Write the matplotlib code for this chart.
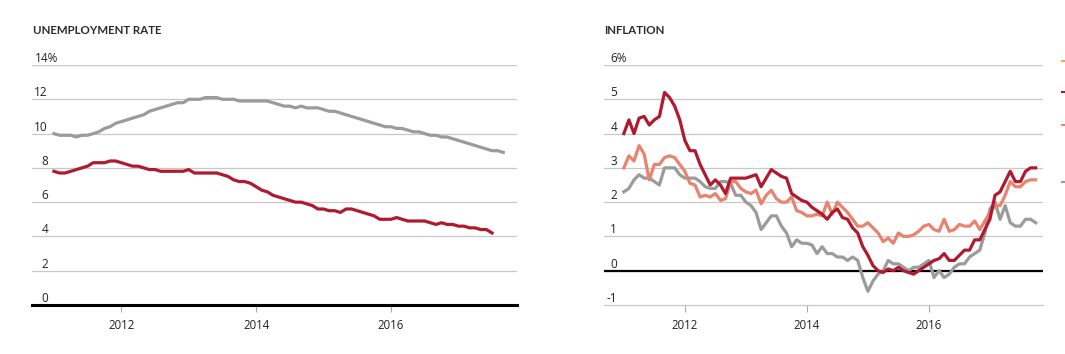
import numpy as np
import matplotlib
matplotlib.use("Agg")
import matplotlib.pyplot as plt
from matplotlib import transforms
from matplotlib.lines import Line2D

plt.rcParams['font.family'] = ['Open Sans', 'DejaVu Sans']

# monthly values, first point = Jan 2011
unemp_gray = [10.0, 9.9, 9.9, 9.9, 9.8, 9.9, 9.9, 10.0, 10.1, 10.3, 10.4, 10.6,
              10.7, 10.8, 10.9, 11.0, 11.1, 11.3, 11.4, 11.5, 11.6, 11.7, 11.8, 11.8,
              12.0, 12.0, 12.0, 12.1, 12.1, 12.1, 12.0, 12.0, 12.0, 11.9, 11.9, 11.9,
              11.9, 11.9, 11.9, 11.8, 11.7, 11.6, 11.6, 11.5, 11.6, 11.5, 11.5, 11.5,
              11.4, 11.3, 11.3, 11.2, 11.1, 11.0, 10.9, 10.8, 10.7, 10.6, 10.5, 10.4,
              10.4, 10.3, 10.3, 10.2, 10.1, 10.1, 10.0, 9.9, 9.9, 9.8, 9.8, 9.7,
              9.6, 9.5, 9.4, 9.3, 9.2, 9.1, 9.0, 9.0, 8.9]
unemp_red = [7.8, 7.7, 7.7, 7.8, 7.9, 8.0, 8.1, 8.3, 8.3, 8.3, 8.4, 8.4,
             8.3, 8.2, 8.1, 8.1, 8.0, 7.9, 7.9, 7.8, 7.8, 7.8, 7.8, 7.8,
             7.9, 7.7, 7.7, 7.7, 7.7, 7.7, 7.6, 7.5, 7.3, 7.2, 7.2, 7.1,
             6.9, 6.7, 6.6, 6.4, 6.3, 6.2, 6.1, 6.0, 6.0, 5.9, 5.8, 5.6,
             5.6, 5.5, 5.5, 5.4, 5.6, 5.6, 5.5, 5.4, 5.3, 5.2, 5.0, 5.0,
             5.0, 5.1, 5.0, 4.9, 4.9, 4.9, 4.9, 4.8, 4.7, 4.8, 4.7, 4.7,
             4.6, 4.6, 4.5, 4.5, 4.4, 4.4, 4.2]

infl_red = [4.0, 4.4, 4.0, 4.45, 4.5, 4.25, 4.4, 4.5, 5.2, 5.05, 4.8, 4.4,
            3.8, 3.5, 3.5, 3.1, 2.8, 2.5, 2.65, 2.5, 2.25, 2.7, 2.7, 2.7,
            2.7, 2.75, 2.8, 2.45, 2.7, 2.95, 2.85, 2.75, 2.7, 2.25, 2.15, 2.05,
            2.0, 1.85, 1.75, 1.65, 1.5, 1.7, 1.8, 1.55, 1.5, 1.25, 1.1, 0.7,
            0.45, 0.15, 0.0, -0.05, 0.05, 0.0, 0.1, 0.0, -0.05, -0.1, 0.0, 0.1,
            0.2, 0.3, 0.35, 0.5, 0.3, 0.3, 0.45, 0.6, 0.6, 0.9, 0.9, 1.2,
            1.5, 2.2, 2.3, 2.6, 2.9, 2.6, 2.6, 2.9, 3.0, 3.0]
infl_salmon = [3.0, 3.35, 3.2, 3.65, 3.4, 2.65, 3.1, 3.1, 3.3, 3.35, 3.3, 3.1,
               2.9, 2.55, 2.5, 2.15, 2.2, 2.15, 2.25, 2.05, 2.1, 2.6, 2.6, 2.4,
               2.3, 2.25, 2.35, 1.95, 2.2, 2.35, 2.1, 2.0, 2.0, 2.15, 1.75, 1.7,
               1.6, 1.6, 1.65, 1.6, 2.0, 1.65, 2.0, 1.85, 1.7, 1.5, 1.3, 1.3,
               1.4, 1.25, 1.1, 0.85, 0.95, 0.8, 1.1, 1.0, 1.0, 1.05, 1.15, 1.3,
               1.35, 1.2, 1.15, 1.5, 1.15, 1.2, 1.35, 1.3, 1.3, 1.45, 1.2, 1.45,
               1.7, 1.9, 1.9, 2.2, 2.6, 2.45, 2.45, 2.6, 2.65, 2.65]
infl_gray = [2.3, 2.4, 2.65, 2.8, 2.7, 2.7, 2.6, 2.5, 3.0, 3.0, 3.0, 2.8,
             2.7, 2.7, 2.7, 2.6, 2.45, 2.4, 2.4, 2.6, 2.6, 2.55, 2.2, 2.2,
             2.0, 1.9, 1.7, 1.2, 1.4, 1.6, 1.6, 1.3, 1.1, 0.7, 0.9, 0.8,
             0.8, 0.75, 0.5, 0.7, 0.5, 0.5, 0.4, 0.4, 0.3, 0.4, 0.3, -0.2,
             -0.6, -0.3, -0.1, 0.0, 0.3, 0.2, 0.2, 0.1, 0.0, 0.1, 0.1, 0.2,
             0.3, -0.2, 0.0, -0.2, -0.1, 0.1, 0.2, 0.2, 0.4, 0.5, 0.6, 1.1,
             1.8, 2.0, 1.5, 1.9, 1.4, 1.3, 1.3, 1.5, 1.5, 1.4]

years = [2012, 2014, 2016]
unemp_ticks = [0, 2, 4, 6, 8, 10, 12, 14]
infl_ticks = [-1, 0, 1, 2, 3, 4, 5, 6]

RED = '#b01a2e'
SALMON = '#e8836f'
GRAY = '#9b9b9b'
GRID = '#c8c8c8'


def months(vals):
    return 2011 + np.arange(len(vals)) / 12.0


def style_axis(ax, ticks, label_x, top_x):
    ax.set_xlim(2010.675, 2017.87)
    ax.set_ylim(ticks[0], ticks[-1])
    for s in ['top', 'right', 'left']:
        ax.spines[s].set_visible(False)
    ax.set_yticks([])
    ax.set_xticks(years)
    ax.set_xticklabels([str(y) for y in years], fontsize=8.3, color='#222222')
    ax.tick_params(axis='x', length=5, width=0.8, color='#aaaaaa', pad=5)
    for t in ticks[1:]:
        ax.axhline(t, color=GRID, lw=0.9, zorder=1)
    # y labels sit just above their gridline
    trans = transforms.offset_copy(ax.get_yaxis_transform(), fig=ax.figure,
                                   x=0, y=3, units='dots')
    for t in ticks[:-1]:
        ax.text(label_x, t, str(t), transform=trans, ha='right', va='baseline',
                fontsize=8.5, color='#222222')
    ax.text(top_x, ticks[-1], str(ticks[-1]) + '%', transform=trans, ha='left',
            va='baseline', fontsize=8.5, color='#222222')


fig = plt.figure(figsize=(10.65, 3.54), dpi=100)

ax1 = fig.add_axes([32 / 1065, 49 / 354, 485 / 1065, 240 / 354])
style_axis(ax1, unemp_ticks, 0.033, 0.006)
ax1.spines['bottom'].set_color('black')
ax1.spines['bottom'].set_linewidth(2.2)
ax1.plot(months(unemp_gray), unemp_gray, color=GRAY, lw=2.3, zorder=3)
ax1.plot(months(unemp_red), unemp_red, color=RED, lw=2.3, zorder=3)

ax2 = fig.add_axes([604 / 1065, 49 / 354, 439 / 1065, 240 / 354])
style_axis(ax2, infl_ticks, 0.03, 0.015)
ax2.spines['bottom'].set_color(GRID)
ax2.spines['bottom'].set_linewidth(0.9)
ax2.axhline(0, color='black', lw=1.6, zorder=2)
ax2.plot(months(infl_gray), infl_gray, color=GRAY, lw=2.3, zorder=3)
ax2.plot(months(infl_salmon), infl_salmon, color=SALMON, lw=2.3, zorder=4)
ax2.plot(months(infl_red), infl_red, color=RED, lw=2.3, zorder=5)

fig.text(33 / 1065, 1 - 31 / 354, 'UNEMPLOYMENT RATE', family=['Lato', 'DejaVu Sans'],
         fontweight='bold', fontsize=8.3, color='#2b2b2b', va='center', ha='left')
fig.text(604 / 1065, 1 - 31 / 354, 'INFLATION', family=['Lato', 'DejaVu Sans'],
         fontweight='bold', fontsize=8.3, color='#2b2b2b', va='center', ha='left')

# clipped legend keys peeking in at the right edge
for yy, c in [(61, '#f0a848'), (92, RED), (125, SALMON), (182, GRAY)]:
    fig.lines.append(Line2D([1062 / 1065, 1065 / 1065], [1 - yy / 354, 1 - yy / 354],
                            transform=fig.transFigure, color=c, lw=1.5))

fig.savefig('out.png', dpi=100)
